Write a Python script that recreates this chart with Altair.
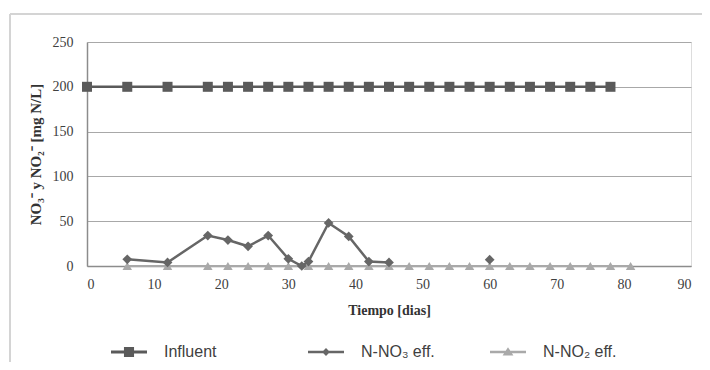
import altair as alt
import pandas as pd

# ---- data ----
series_names = ["Influent", "N-NO\u2083 eff.", "N-NO\u2082 eff."]

inf_days = [0, 6, 12, 18, 21, 24, 27, 30, 33, 36, 39, 42, 45, 48, 51, 54, 57, 60, 63, 66, 69, 72, 75, 78]
inf_vals = [200, 200, 200, 200, 200, 200, 200, 200, 200, 200, 200, 200, 200, 200, 200, 200, 200, 200, 200, 200, 200, 200, 200, 200]

no3_days = [6, 12, 18, 21, 24, 27, 30, 32, 33, 36, 39, 42, 45, 60]
no3_vals = [7.5, 4, 34, 29, 22, 34, 8, 0, 5, 48, 33, 5, 4, 7]
no3_seg = ["a", "a", "a", "a", "a", "a", "a", "a", "a", "a", "a", "a", "a", "b"]

no2_days = [6, 12, 18, 21, 24, 27, 30, 33, 36, 39, 42, 45, 48, 51, 54, 57, 60, 63, 66, 69, 72, 75, 78, 81]
no2_vals = [0, 0, 0, 0, 0, 0, 0, 0, 0, 0, 0, 0, 0, 0, 0, 0, 0, 0, 0, 0, 0, 0, 0, 0]

x_ticks = [0, 10, 20, 30, 40, 50, 60, 70, 80, 90]
y_ticks = [0, 50, 100, 150, 200, 250]

colors = ["#5a5a5a", "#666666", "#a9a9a9"]
# legend symbols: line + marker, in unit space [-1, 1]
legend_paths = [
    "M-1,-0.08H1V0.08H-1Z M-0.28,-0.28H0.28V0.28H-0.28Z",
    "M-1,-0.07H1V0.07H-1Z M0,-0.22L0.22,0L0,0.22L-0.22,0Z",
    "M-1,-0.07H1V0.07H-1Z M0,-0.26L0.3,0.2L-0.3,0.2Z",
]

df_inf = pd.DataFrame({"day": inf_days, "val": inf_vals, "series": series_names[0]})
df_no3 = pd.DataFrame({"day": no3_days, "val": no3_vals, "seg": no3_seg, "series": series_names[1]})
df_no2 = pd.DataFrame({"day": no2_days, "val": no2_vals, "series": series_names[2]})
df_all = pd.concat([df_inf, df_no3, df_no2], ignore_index=True)

serif = "Liberation Serif"
sans = "Liberation Sans"

x_enc = alt.X(
    "day:Q",
    scale=alt.Scale(domain=[0, 90], nice=False),
    axis=alt.Axis(
        values=x_ticks, grid=False, ticks=False, labelPadding=11,
        labelFont=serif, labelFontSize=14, labelColor="#404040",
        domainColor="#8c8c8c", domainWidth=1.5,
        title="Tiempo [dias]", titleFont=serif, titleFontSize=14, titleFontWeight="bold",
        titleColor="#333333", titleX=302, titleY=44, titleBaseline="middle",
    ),
)
y_enc = alt.Y(
    "val:Q",
    scale=alt.Scale(domain=[0, 250], nice=False),
    axis=alt.Axis(
        values=y_ticks, grid=True, gridColor="#a8a8a8", gridWidth=1, ticks=False,
        labelPadding=14, labelFont=serif, labelFontSize=14, labelColor="#404040",
        domainColor="#8c8c8c", domainWidth=1.5,
        title="NO\u2083\u207b y NO\u2082\u207b [mg N/L]", titleFont=serif, titleFontSize=15,
        titleFontWeight="bold", titleColor="#333333", titleAngle=270,
        titleX=-52, titleY=112, titleAlign="center", titleBaseline="middle",
    ),
)

base_inf = alt.Chart(df_inf)
inf_line = base_inf.mark_line(color=colors[0], strokeWidth=2.5).encode(x=x_enc, y=y_enc)
inf_pts = base_inf.mark_point(shape="square", filled=True, size=100, color=colors[0], opacity=1).encode(x=x_enc, y=y_enc)

base_no3 = alt.Chart(df_no3)
no3_line = base_no3.mark_line(color=colors[1], strokeWidth=2.5).encode(x=x_enc, y=y_enc, detail="seg:N")
no3_pts = base_no3.mark_point(shape="diamond", filled=True, size=95, color=colors[1], opacity=1).encode(x=x_enc, y=y_enc)

base_no2 = alt.Chart(df_no2)
no2_line = base_no2.mark_line(color=colors[2], strokeWidth=2).encode(x=x_enc, y=y_enc)
no2_pts = base_no2.mark_point(shape="triangle-up", filled=True, size=90, color=colors[2], opacity=1).encode(x=x_enc, y=y_enc)

legend_kw = dict(
    orient="none", legendX=24, legendY=292, direction="horizontal", title=None,
    symbolSize=1296, symbolOpacity=1, symbolStrokeWidth=0, padding=0,
    labelFont=sans, labelFontSize=16, labelColor="#404040", labelOffset=17,
    columnPadding=55,
    labelExpr="datum.label == 'Influent' ? 'Influent\u2800\u2800\u2800' : datum.label",
)
legend_layer = alt.Chart(df_all).mark_point(filled=True, opacity=0).encode(
    x=x_enc, y=y_enc,
    shape=alt.Shape("series:N", scale=alt.Scale(domain=series_names, range=legend_paths), legend=alt.Legend(**legend_kw)),
    color=alt.Color("series:N", scale=alt.Scale(domain=series_names, range=colors), legend=alt.Legend(**legend_kw)),
)

frame_v = alt.Chart(df_inf).mark_rule(color="#d4d4d4", strokeWidth=2).encode(
    x=alt.value(-77), y=alt.value(-28), y2=alt.value(400)
)
frame_h = alt.Chart(df_inf).mark_rule(color="#d4d4d4", strokeWidth=2).encode(
    x=alt.value(-77), x2=alt.value(700), y=alt.value(-28)
)

chart = alt.layer(
    frame_v, frame_h,
    no2_line, no2_pts,
    no3_line, no3_pts,
    inf_line, inf_pts,
    legend_layer,
).properties(
    width=604, height=224,
    autosize=alt.AutoSizeParams(type="none"),
    padding={"left": 79, "top": 34, "right": 11, "bottom": 96},
).configure_view(strokeWidth=0).configure(background="white")

chart.save("out.html", embed_options={"renderer": "svg", "actions": False})
